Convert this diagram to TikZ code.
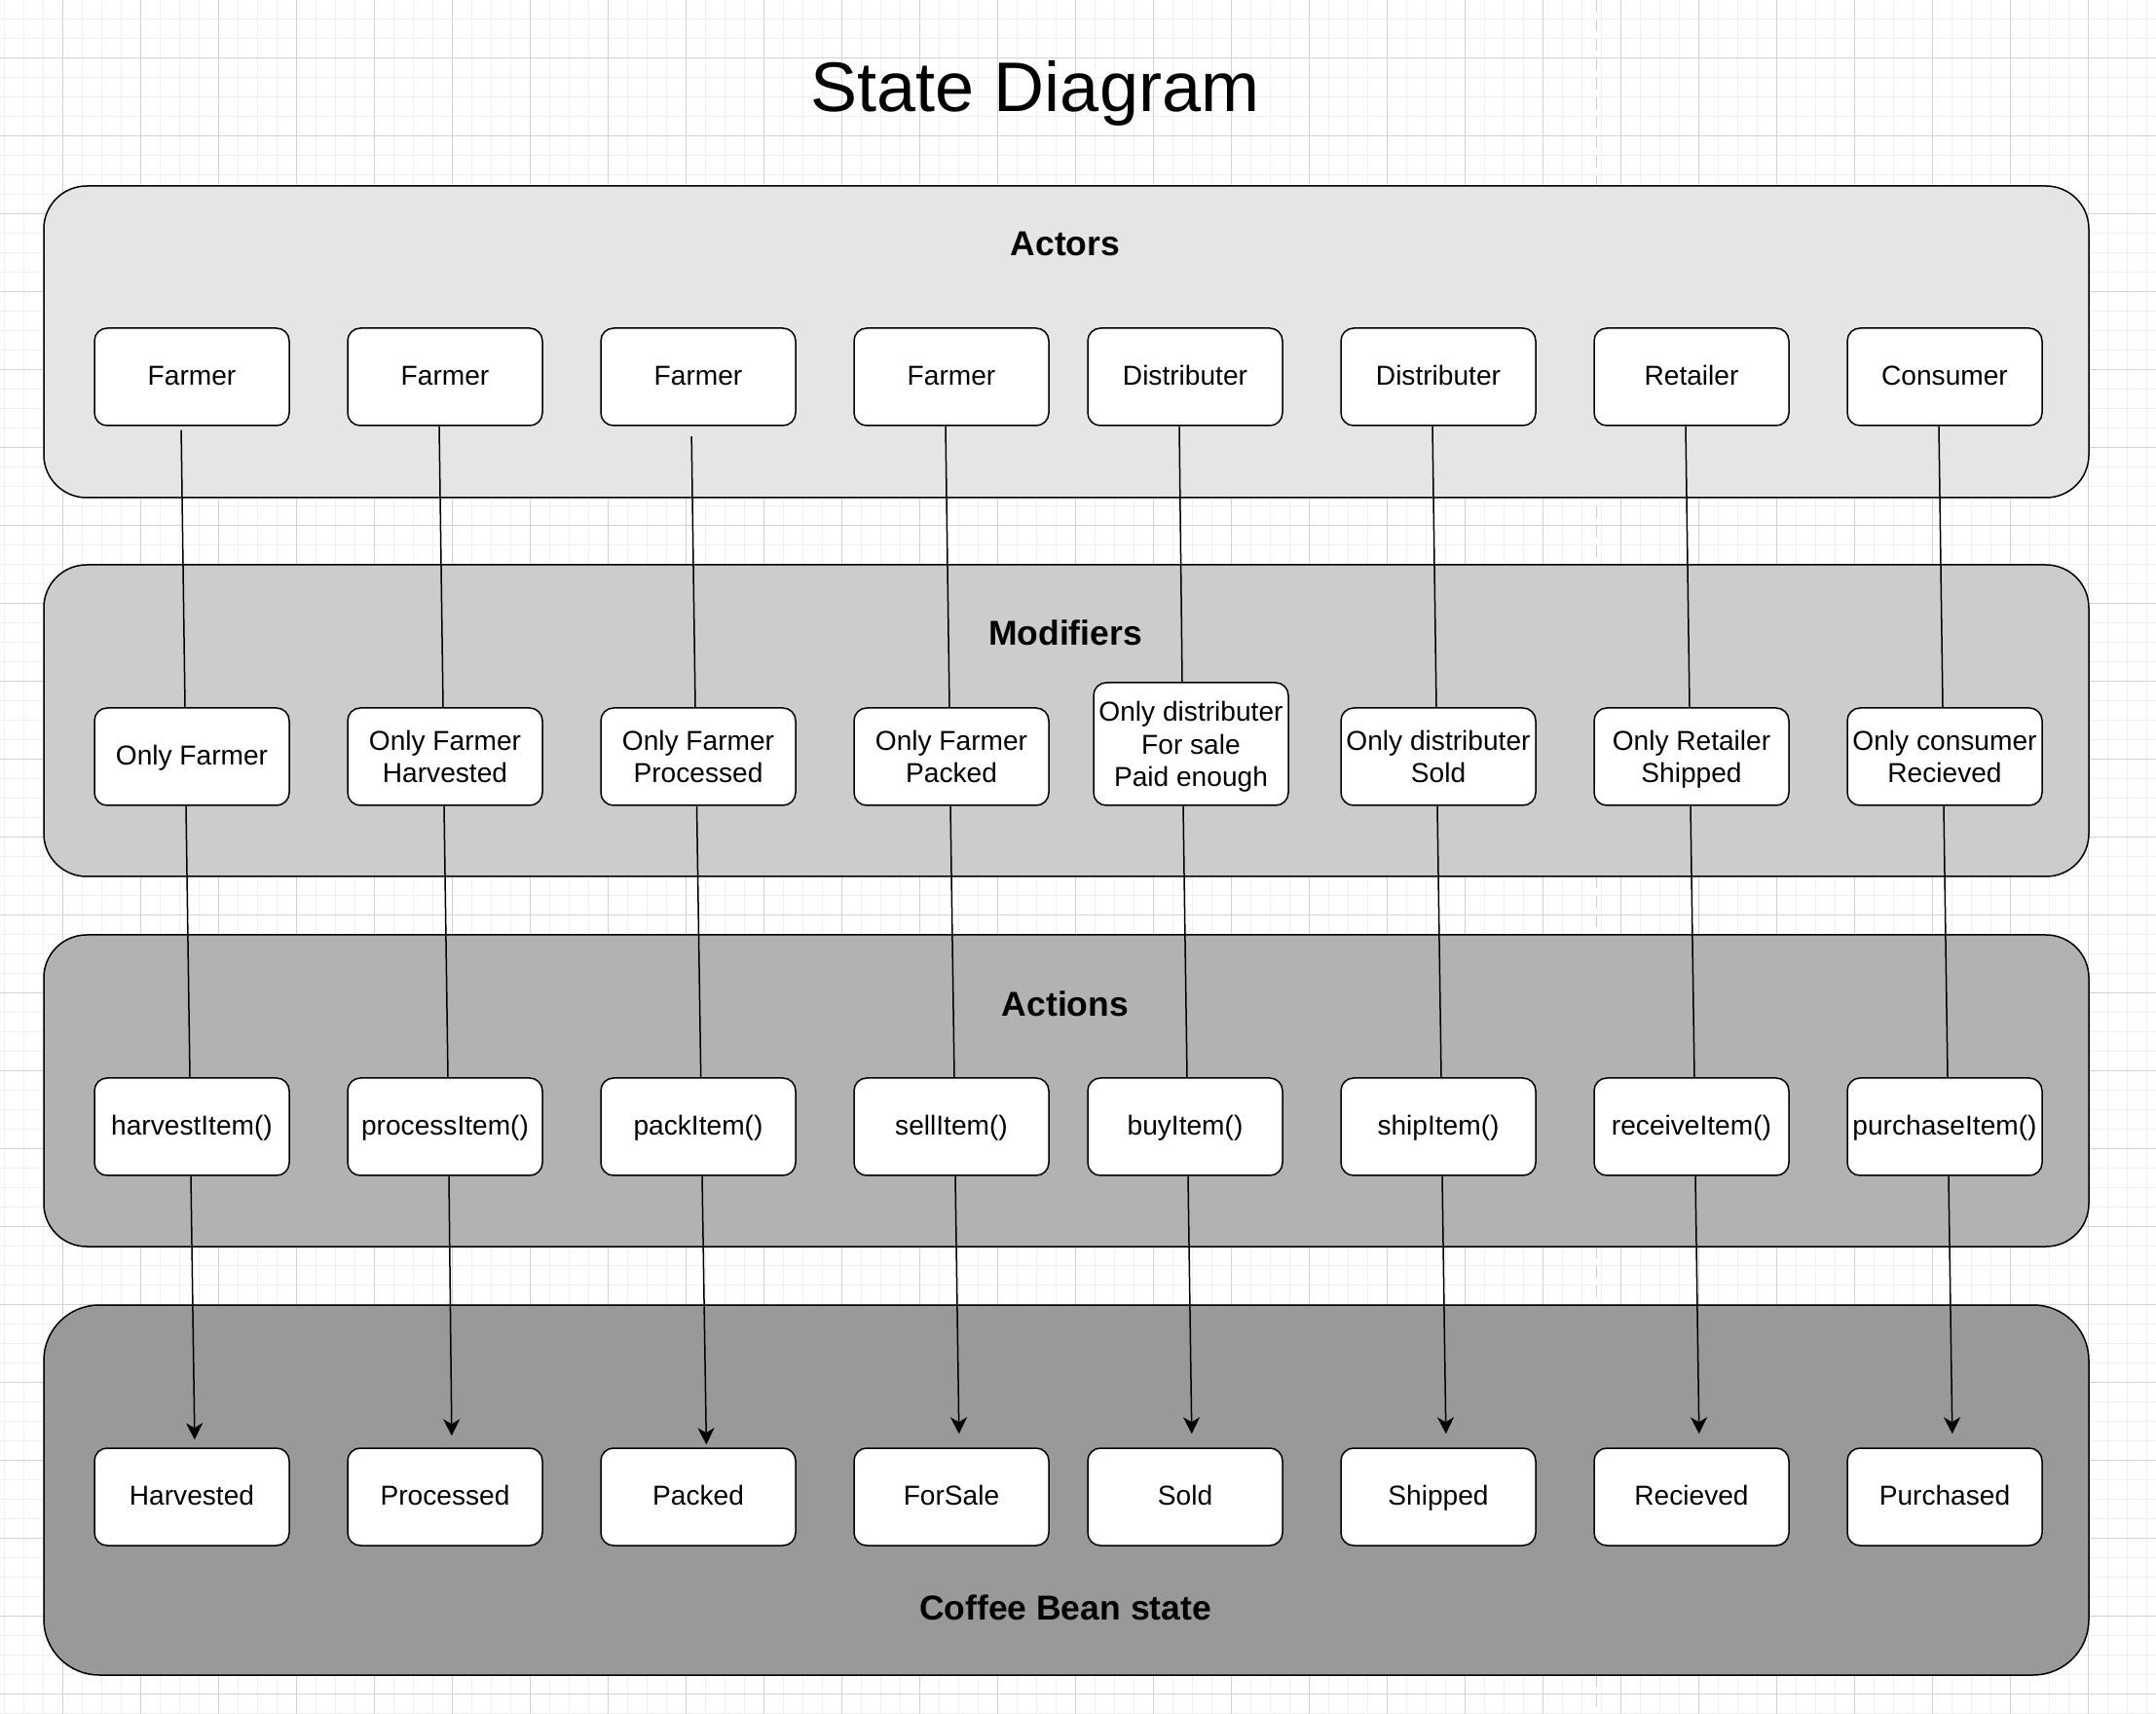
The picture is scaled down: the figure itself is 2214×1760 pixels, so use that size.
\documentclass[tikz,border=0pt]{standalone}
\usepackage{fontspec}
\setmainfont{Liberation Sans}
\usetikzlibrary{arrows.meta, calc}
\newcommand{\boxstrut}{\rule[-2.2pt]{0pt}{9.5pt}}
\tikzset{
  panel/.style   = {draw, rounded corners=4.4mm},
  box/.style     = {shape=rectangle, rounded corners=1.3mm,
                    draw, fill=white, align=center, inner sep=0.4mm,
                    minimum width=20mm, minimum height=10mm,
                    font=\fontsize{8}{9.5}\selectfont,
                    execute at begin node=\boxstrut,
                    execute at end node=\boxstrut},
  lines/.style   = {box, text depth=0pt},
  heading/.style = {anchor=base, font=\fontsize{10.1}{12}\selectfont\bfseries},
  link/.style 2 args = {to path={($(\tikztostart.south)+(#1,0)$)
                                 -- ($(\tikztotarget.north)+(#2,0)$)}}
}

\begin{document}
\begin{tikzpicture}
  [
    x                 = 0.1mm,
    y                 = -0.1mm,
    line width        = 0.15mm,
    pointer/.style    = {-{Stealth[length=1.7mm, width=1.7mm, inset=0.5mm]},
                         shorten >=1.4mm},
    paper/.style      = {line width=0.1mm}
  ]
  \useasboundingbox (0,0) rectangle (2214,1760);
  % paper and grid
  \fill[white] (0,0) rectangle (2214,1760);
  \begin{scope}
    \clip (0,0) rectangle (2214,1760);
    \draw[paper, gray!12, shift={(64.3,60)}, step=2mm] (-80,1760) grid (2240,-80);
    \draw[paper, gray!35, shift={(64.3,60)}, step=8mm] (-80,1760) grid (2240,-80);
  \end{scope}
  \draw[paper, gray!40, dash pattern=on 1.2mm off 0.8mm] (1639,0) -- (1639,1760);

  \node (title) [anchor=base, font=\fontsize{20.5}{24}\selectfont] at (1063,115)
    {State Diagram};

  % the four layers
  \draw[panel, fill=gray!20] (45,191) rectangle (2145,511);
  \draw[panel, fill=gray!40] (45,580) rectangle (2145,900);
  \draw[panel, fill=gray!60] (45,960) rectangle (2145,1280);
  \draw[panel, fill=gray!80, rounded corners=5.7mm] (45,1340) rectangle (2145,1720);

  \node (hactors) [heading] at (1094,263)  {Actors};
  \node (hmods)   [heading] at (1094,663)  {Modifiers};
  \node (hacts)   [heading] at (1094,1043) {Actions};
  \node (hcoffee) [heading] at (1094,1663) {Coffee Bean state};

  % actors
  \node (a1) [box] at (197,387)  {Farmer};
  \node (a2) [box] at (457,387)  {Farmer};
  \node (a3) [box] at (717,387)  {Farmer};
  \node (a4) [box] at (977,387)  {Farmer};
  \node (a5) [box] at (1217,387) {Distributer};
  \node (a6) [box] at (1477,387) {Distributer};
  \node (a7) [box] at (1737,387) {Retailer};
  \node (a8) [box] at (1997,387) {Consumer};

  % modifiers
  \node (m1) [box]   at (197,777)  {Only Farmer};
  \node (m2) [lines] at (457,777)  {Only Farmer\\Harvested};
  \node (m3) [lines] at (717,777)  {Only Farmer\\Processed};
  \node (m4) [lines] at (977,777)  {Only Farmer\\Packed};
  \node (m5) [lines, minimum height=12.6mm] at (1223,764)
    {Only distributer\\For sale\\Paid enough};
  \node (m6) [lines] at (1477,777) {Only distributer\\Sold};
  \node (m7) [lines] at (1737,777) {Only Retailer\\Shipped};
  \node (m8) [lines] at (1997,777) {Only consumer\\Recieved};

  % actions
  \node (c1) [box] at (197,1157)  {harvestItem()};
  \node (c2) [box] at (457,1157)  {processItem()};
  \node (c3) [box] at (717,1157)  {packItem()};
  \node (c4) [box] at (977,1157)  {sellItem()};
  \node (c5) [box] at (1217,1157) {buyItem()};
  \node (c6) [box] at (1477,1157) {shipItem()};
  \node (c7) [box] at (1737,1157) {receiveItem()};
  \node (c8) [box] at (1997,1157) {purchaseItem()};

  % coffee bean states
  \node (s1) [box] at (197,1537)  {Harvested};
  \node (s2) [box] at (457,1537)  {Processed};
  \node (s3) [box] at (717,1537)  {Packed};
  \node (s4) [box] at (977,1537)  {ForSale};
  \node (s5) [box] at (1217,1537) {Sold};
  \node (s6) [box] at (1477,1537) {Shipped};
  \node (s7) [box] at (1737,1537) {Recieved};
  \node (s8) [box] at (1997,1537) {Purchased};

  % connectors, column by column
  \draw[shorten <=0.4mm] (a1) to[link={-11}{-7}] (m1);
  \draw (m1) to[link={-6}{-2}] (c1);
  \draw[pointer, shorten >=0.8mm] (c1) to[link={-1}{3}] (s1);

  \draw (a2) to[link={-6}{-2}] (m2);
  \draw (m2) to[link={-1}{3}] (c2);
  \draw[pointer, shorten >=1.2mm] (c2) to[link={4}{7}] (s2);

  \draw[shorten <=1.05mm] (a3) to[link={-7}{-3}] (m3);
  \draw (m3) to[link={-1.5}{2.7}] (c3);
  \draw[pointer, shorten >=0.3mm] (c3) to[link={4}{8.4}] (s3);

  \draw (a4) to[link={-6}{-2}] (m4);
  \draw (m4) to[link={-1}{3}] (c4);
  \draw[pointer] (c4) to[link={4}{8}] (s4);

  \draw (a5) to[link={-6}{-9}] (m5);
  \draw (m5) to[link={-8}{2}] (c5);
  \draw[pointer] (c5) to[link={3}{7}] (s5);

  \draw (a6) to[link={-6}{-2}] (m6);
  \draw (m6) to[link={-1}{3}] (c6);
  \draw[pointer] (c6) to[link={4}{8}] (s6);

  \draw (a7) to[link={-6}{-2}] (m7);
  \draw (m7) to[link={-1}{3}] (c7);
  \draw[pointer] (c7) to[link={4}{8}] (s7);

  \draw (a8) to[link={-6}{-2}] (m8);
  \draw (m8) to[link={-1}{3}] (c8);
  \draw[pointer] (c8) to[link={4}{8}] (s8);
\end{tikzpicture}
\end{document}
